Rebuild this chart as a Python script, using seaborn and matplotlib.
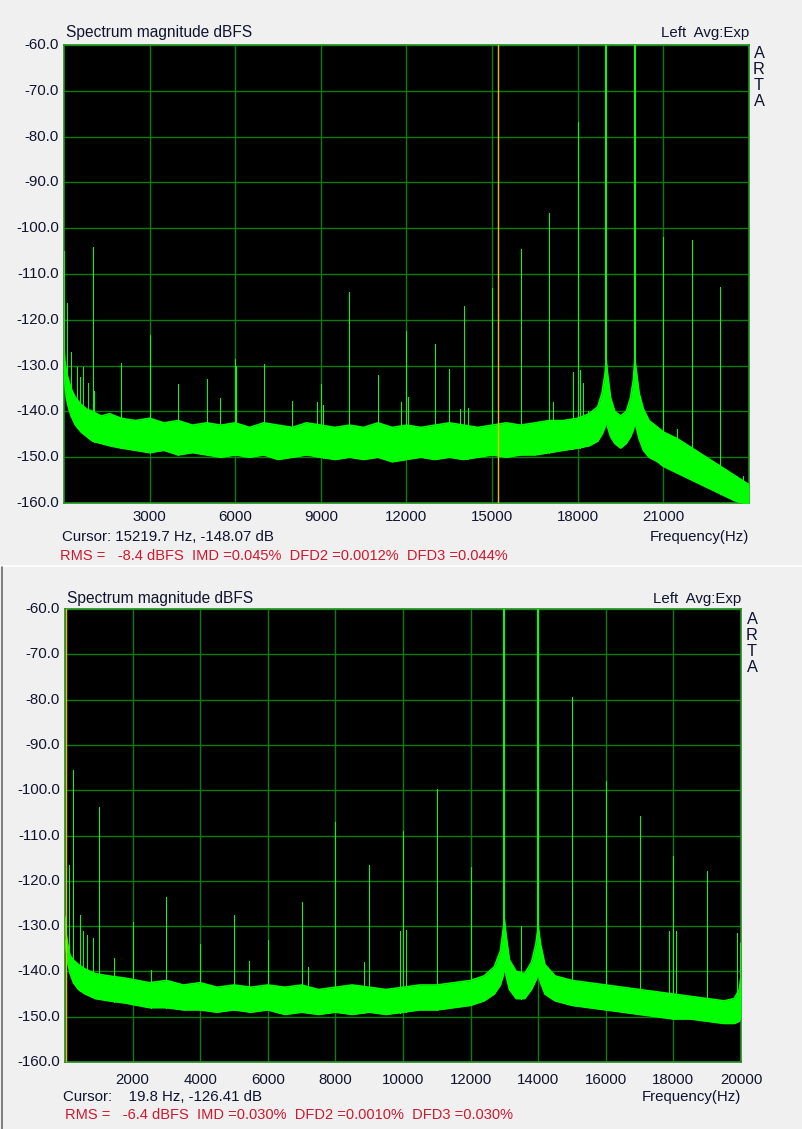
import matplotlib
matplotlib.use("Agg")
import matplotlib.pyplot as plt
import seaborn as sns
import numpy as np
import pandas as pd

# ---------------- data ----------------
# Panel 1 (0-24 kHz)
top_freq = [0, 30, 80, 150, 250, 400, 600, 800, 1000, 1300, 1600, 2000, 2500, 3000, 3500,
            4000, 4500, 5000, 5500, 6000, 6500, 7000, 7500, 8000, 8500, 9000, 9500, 10000,
            10500, 11000, 11500, 12000, 12500, 13000, 13500, 14000, 14500, 15000, 15500,
            16000, 16500, 17000, 17500, 18000, 18400, 18700, 18850, 18950, 19000, 19050,
            19150, 19300, 19500, 19700, 19850, 19950, 20000, 20050, 20150, 20300, 20500,
            20800, 21000, 21500, 22000, 22500, 23000, 23500, 24000]
top_upper = [-126, -129, -131, -133, -135, -137, -138.5, -139.5, -140, -141, -140.5, -141.5,
             -142, -141.5, -142.5, -142, -143, -142.5, -143, -142.5, -143.5, -142.5, -143,
             -143.5, -142.5, -143, -143.5, -143, -143.5, -142.5, -143.5, -143, -143.5, -143,
             -142.5, -143, -143.5, -143, -142.5, -143, -142.5, -142, -142, -141.5, -140.5,
             -139, -136, -132, -129, -132, -137, -140, -141, -140, -137, -133, -128.5, -131,
             -136, -139.5, -142, -143.5, -144.5, -146, -148, -150, -152, -154, -156]
top_lower = [-131, -134, -137, -139, -141, -143, -144.5, -145.5, -146.5, -147, -147.5, -148,
             -148.5, -149, -148.5, -149.5, -149, -149.5, -150, -149.5, -150, -149.5, -150.5,
             -150, -149.5, -150, -150.5, -150, -150.5, -150, -151, -150.5, -150, -150.5, -150,
             -150.5, -150, -149.5, -150, -149.5, -149.5, -149, -148.5, -148, -147.5, -146.5,
             -145, -143.5, -142, -143.5, -145.5, -147, -148, -147, -145.5, -144, -142.5,
             -143.5, -146, -148.5, -150, -151, -152, -153.5, -155, -156.5, -158, -159.5, -160.5]
top_spike_freq = [10, 90, 260, 455, 560, 665, 855, 1000, 1050, 2000, 3000, 4000, 5000, 5460,
                  6000, 6040, 7000, 8000, 8860, 9000, 9090, 10000, 11000, 11800, 12000, 12060,
                  13000, 13500, 13870, 14000, 14170, 15000, 16000, 17000, 17150, 17850, 18000,
                  18070, 18200, 18350, 21000, 21480, 22000, 23000, 23800]
top_spike_db = [-105, -116.3, -127, -130.3, -132.5, -130.3, -133.8, -104, -135.5, -129.5,
                -123.3, -134, -133, -137, -128.5, -130, -129.7, -137.7, -138, -134, -138.6,
                -114, -132, -138, -122.4, -136.9, -125.3, -130.7, -139.5, -117, -139.3, -113,
                -104.5, -96.7, -138, -131.4, -76.8, -131, -133.8, -140, -102, -143.8, -102.6,
                -112.8, -154]
top_tone_freq = [19000, 20000]
top_tone_db = [-6, -6]
top_xticks = [3000, 6000, 9000, 12000, 15000, 18000, 21000]
top_cursor = 15219.7
top_cursor_text = "Cursor: 15219.7 Hz, -148.07 dB"
top_stats = "RMS =   -8.4 dBFS  IMD =0.045%  DFD2 =0.0012%  DFD3 =0.044%"

# Panel 2 (0-20 kHz)
bot_freq = [0, 30, 80, 150, 250, 400, 600, 900, 1300, 1800, 2500, 3000, 3500, 4000, 4500,
            5000, 5500, 6000, 6500, 7000, 7500, 8000, 8500, 9000, 9500, 10000, 10500, 11000,
            11500, 12000, 12400, 12700, 12880, 12960, 13000, 13050, 13150, 13350, 13600,
            13800, 13930, 14000, 14070, 14200, 14500, 15000, 15500, 16000, 16500, 17000,
            17500, 18000, 18500, 19000, 19500, 19800, 19950, 20000]
bot_upper = [-128, -131.5, -134, -136.5, -137.5, -138.5, -139.5, -140.5, -141, -141.5, -142.5,
             -142, -143, -142.5, -143.5, -143, -143.5, -143, -143.5, -143, -144, -143.5, -143,
             -143.5, -144, -143.5, -143, -143, -142.5, -142, -141, -139, -135.5, -131, -128.5,
             -132, -137.5, -140, -140.5, -138, -134, -130, -134, -138.5, -141, -142, -142.5,
             -143, -143.5, -144, -144.5, -145, -145.5, -146, -146.5, -146, -144, -141]
bot_lower = [-133, -135, -138, -140.5, -142.5, -144, -145, -146, -146.5, -147, -148, -148,
             -148.5, -148.5, -149, -148.5, -149, -148.5, -149.5, -149, -149.5, -149, -149.5,
             -149, -149.5, -149, -148.5, -148.5, -148, -147.5, -146.5, -145, -143, -141, -139,
             -141, -144, -146, -146, -144, -142, -140.5, -142.5, -145, -146.5, -147.5, -148,
             -148.5, -149, -149.5, -150, -150.5, -150.5, -151, -151.5, -151.5, -151, -150]
bot_spike_freq = [15, 127, 250, 444, 541, 660, 818, 1000, 1450, 2000, 2544, 3000, 4000, 5000,
                  5453, 6000, 7000, 7200, 8000, 8855, 9000, 9900, 10000, 10090, 11000, 12000,
                  13500, 15000, 16000, 17000, 17870, 18000, 18080, 19000, 19870, 19970]
bot_spike_db = [-105.3, -116.5, -95.5, -127.5, -131, -132, -132.6, -103.7, -137, -129, -139.7,
                -123.6, -134, -127.5, -137.7, -133, -124.7, -139, -107, -138, -116.5, -131,
                -109, -130.8, -99.7, -117, -130, -79.4, -98, -105.7, -131, -114.5, -131,
                -117.8, -131.5, -133.8]
bot_tone_freq = [13000, 14000]
bot_tone_db = [-6, -6]
bot_xticks = [2000, 4000, 6000, 8000, 10000, 12000, 14000, 16000, 18000, 20000]
bot_cursor = 19.8
bot_cursor_text = "Cursor:    19.8 Hz, -126.41 dB"
bot_stats = "RMS =   -6.4 dBFS  IMD =0.030%  DFD2 =0.0010%  DFD3 =0.030%"

y_ticks = [-60, -70, -80, -90, -100, -110, -120, -130, -140, -150, -160]

# ---------------- style ----------------
sns.set_theme(style="dark")
plt.rcParams['font.family'] = ['Liberation Sans', 'DejaVu Sans']

W, H = 803, 1129
BG = "#f0f0f0"
NOISE = "#00ff00"
GRID = "#0c7d0c"
FRAME = "#1f8f1f"
TXT = "#10142e"
RED = "#d0182e"
CURSOR = "#e6c200"
FS = 10.8

fig = plt.figure(figsize=(W / 100, H / 100), dpi=100, facecolor=BG)


def fx(x):
    return x / W


def fy(y):
    return 1 - y / H


def panel(box, xmax, freq, upper, lower, sf, sdb, tf, tdb, xticks, cursor,
          ctext, stats, title_y, ticklab_y, cursor_y, stats_y, arta_x, arta_y0, arta_dy,
          stats_x):
    left, top, right, bottom = box
    ax = fig.add_axes([fx(left), fy(bottom), fx(right - left), (bottom - top) / H])
    ax.set_facecolor("black")
    ax.set_xlim(0, xmax)
    ax.set_ylim(-160, -60)
    ax.set_yticks(y_ticks)
    ax.set_xticks(xticks)
    ax.grid(True, color=GRID, linewidth=1.0)
    ax.set_axisbelow(True)
    ax.tick_params(length=0, labelleft=False, labelbottom=False)
    for s in ax.spines.values():
        s.set_color(FRAME)
        s.set_linewidth(1.2)

    df = pd.DataFrame({"f": freq, "up": upper, "lo": lower})
    ax.fill_between(df["f"], df["lo"], df["up"], color=NOISE, linewidth=0, zorder=3)
    sns.lineplot(data=df, x="f", y="up", color=NOISE, linewidth=1.2, ax=ax, zorder=3)
    sns.lineplot(data=df, x="f", y="lo", color=NOISE, linewidth=1.2, ax=ax, zorder=3)
    base = np.interp(sf, freq, lower)
    ax.vlines(sf, base, sdb, color=NOISE, linewidth=0.72, zorder=4, antialiased=False)
    tbase = np.interp(tf, freq, lower)
    ax.vlines(tf, tbase, tdb, color=NOISE, linewidth=1.44, zorder=4, antialiased=False)
    ax.axvline(cursor, color=CURSOR, linewidth=1.0, zorder=5)
    ax.set_xlabel("")
    ax.set_ylabel("")

    for v in y_ticks:
        ypix = top + (-60 - v) / 100 * (bottom - top)
        fig.text(fx(left - 5), fy(ypix), f"{v:.1f}", ha="right", va="center",
                 fontsize=FS, color=TXT)
    for v in xticks:
        xpix = left + v / xmax * (right - left)
        fig.text(fx(xpix), fy(ticklab_y), f"{v}", ha="center", va="center",
                 fontsize=FS, color=TXT)

    fig.text(fx(left + 2), fy(title_y), "Spectrum magnitude dBFS", ha="left",
             va="center", fontsize=FS + 0.4, color=TXT)
    fig.text(fx(right), fy(title_y), "Left  Avg:Exp", ha="right", va="center",
             fontsize=FS, color=TXT)
    for i, ch in enumerate("ARTA"):
        fig.text(fx(arta_x), fy(arta_y0 + i * arta_dy), ch, ha="center", va="center",
                 fontsize=FS + 1, color=TXT)
    fig.text(fx(left - 2), fy(cursor_y), ctext, ha="left", va="center",
             fontsize=FS, color=TXT)
    fig.text(fx(right), fy(cursor_y), "Frequency(Hz)", ha="right", va="center",
             fontsize=FS, color=TXT)
    fig.text(fx(stats_x), fy(stats_y), stats, ha="left", va="center",
             fontsize=FS - 0.3, color=RED)
    return ax


panel((64, 45, 749, 503), 24000, top_freq, top_upper, top_lower, top_spike_freq,
      top_spike_db, top_tone_freq, top_tone_db, top_xticks, top_cursor, top_cursor_text,
      top_stats, 33, 517, 537, 556, 759, 54, 16, 60)

panel((65, 609, 741, 1062), 20000, bot_freq, bot_upper, bot_lower, bot_spike_freq,
      bot_spike_db, bot_tone_freq, bot_tone_db, bot_xticks, bot_cursor, bot_cursor_text,
      bot_stats, 599, 1080, 1097, 1115, 752, 620, 15.7, 65)

# panel separator
fig.add_artist(plt.Line2D([0, 1], [fy(566), fy(566)], color="white", linewidth=1.2))
fig.add_artist(plt.Line2D([fx(2.5), fx(2.5)], [fy(567), 0], color="#6a6a6a", linewidth=1.2))

fig.savefig("out.png", dpi=100, facecolor=BG)
